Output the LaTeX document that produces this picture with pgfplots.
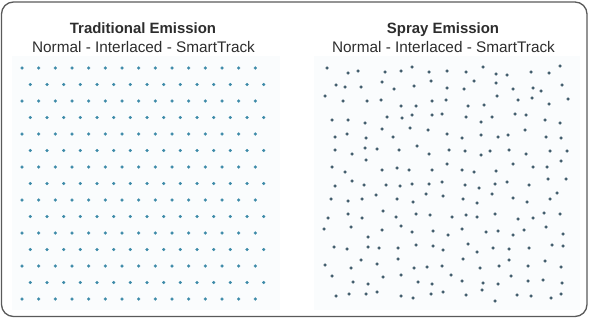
\documentclass[border=0pt]{standalone}
\usepackage{pgfplots}
\pgfplotsset{compat=1.18}
\usepackage{fontspec}
\setmainfont{Liberation Sans}
\definecolor{tradc}{RGB}{60,138,168}
\definecolor{sprayc}{RGB}{62,90,106}
\definecolor{txt}{RGB}{45,45,45}
\definecolor{framec}{RGB}{90,90,90}
\definecolor{tint}{RGB}{250,252,253}
\begin{document}
\begin{tikzpicture}
\pgfplotsset{panel/.style={scale only axis, width=294.5bp, height=318bp,
  ymin=0, ymax=318, y dir=reverse, hide axis, clip=false, anchor=south west}}
% ---------------- Left panel: traditional emission (regular interlaced grid)
\begin{axis}[panel, at={(0,0)}, xmin=0, xmax=294.5]
\path (axis cs:0,0) (axis cs:294.5,318);
\fill[tint] (axis cs:12,56) rectangle (axis cs:280,310);
\draw[framec, line width=1.3bp, rounded corners=12bp] (axis cs:1.5,2) rectangle (axis cs:587,316.5);
\node[anchor=base, font=\fontsize{15}{18}\selectfont\bfseries, text=txt] at (axis cs:143,33) {Traditional Emission};
\node[anchor=base, font=\fontsize{15.4}{18}\selectfont, text=txt] at (axis cs:143.5,52) {Normal - Interlaced - SmartTrack};
\addplot[only marks, mark=*, mark size=1.5bp, mark options={fill=tradc, draw=tradc, line width=0.2bp}] coordinates {
(22,68) (38.7,68) (55.3,68) (72,68) (88.7,68) (105.3,68) (122,68) (138.7,68) (155.3,68) (172,68) (188.7,68) (205.3,68) (222,68) (238.7,68) (255.3,68)
(30.3,84.5) (47,84.5) (63.7,84.5) (80.3,84.5) (97,84.5) (113.7,84.5) (130.3,84.5) (147,84.5) (163.7,84.5) (180.3,84.5) (197,84.5) (213.7,84.5) (230.3,84.5) (247,84.5) (263.7,84.5)
(22,101) (38.7,101) (55.3,101) (72,101) (88.7,101) (105.3,101) (122,101) (138.7,101) (155.3,101) (172,101) (188.7,101) (205.3,101) (222,101) (238.7,101) (255.3,101)
(30.3,117.5) (47,117.5) (63.7,117.5) (80.3,117.5) (97,117.5) (113.7,117.5) (130.3,117.5) (147,117.5) (163.7,117.5) (180.3,117.5) (197,117.5) (213.7,117.5) (230.3,117.5) (247,117.5) (263.7,117.5)
(22,134) (38.7,134) (55.3,134) (72,134) (88.7,134) (105.3,134) (122,134) (138.7,134) (155.3,134) (172,134) (188.7,134) (205.3,134) (222,134) (238.7,134) (255.3,134)
(30.3,150.5) (47,150.5) (63.7,150.5) (80.3,150.5) (97,150.5) (113.7,150.5) (130.3,150.5) (147,150.5) (163.7,150.5) (180.3,150.5) (197,150.5) (213.7,150.5) (230.3,150.5) (247,150.5) (263.7,150.5)
(22,167) (38.7,167) (55.3,167) (72,167) (88.7,167) (105.3,167) (122,167) (138.7,167) (155.3,167) (172,167) (188.7,167) (205.3,167) (222,167) (238.7,167) (255.3,167)
(30.3,183.5) (47,183.5) (63.7,183.5) (80.3,183.5) (97,183.5) (113.7,183.5) (130.3,183.5) (147,183.5) (163.7,183.5) (180.3,183.5) (197,183.5) (213.7,183.5) (230.3,183.5) (247,183.5) (263.7,183.5)
(22,200) (38.7,200) (55.3,200) (72,200) (88.7,200) (105.3,200) (122,200) (138.7,200) (155.3,200) (172,200) (188.7,200) (205.3,200) (222,200) (238.7,200) (255.3,200)
(30.3,216.5) (47,216.5) (63.7,216.5) (80.3,216.5) (97,216.5) (113.7,216.5) (130.3,216.5) (147,216.5) (163.7,216.5) (180.3,216.5) (197,216.5) (213.7,216.5) (230.3,216.5) (247,216.5) (263.7,216.5)
(22,233) (38.7,233) (55.3,233) (72,233) (88.7,233) (105.3,233) (122,233) (138.7,233) (155.3,233) (172,233) (188.7,233) (205.3,233) (222,233) (238.7,233) (255.3,233)
(30.3,249.5) (47,249.5) (63.7,249.5) (80.3,249.5) (97,249.5) (113.7,249.5) (130.3,249.5) (147,249.5) (163.7,249.5) (180.3,249.5) (197,249.5) (213.7,249.5) (230.3,249.5) (247,249.5) (263.7,249.5)
(22,266) (38.7,266) (55.3,266) (72,266) (88.7,266) (105.3,266) (122,266) (138.7,266) (155.3,266) (172,266) (188.7,266) (205.3,266) (222,266) (238.7,266) (255.3,266)
(30.3,282.5) (47,282.5) (63.7,282.5) (80.3,282.5) (97,282.5) (113.7,282.5) (130.3,282.5) (147,282.5) (163.7,282.5) (180.3,282.5) (197,282.5) (213.7,282.5) (230.3,282.5) (247,282.5) (263.7,282.5)
(22,299) (38.7,299) (55.3,299) (72,299) (88.7,299) (105.3,299) (122,299) (138.7,299) (155.3,299) (172,299) (188.7,299) (205.3,299) (222,299) (238.7,299) (255.3,299)
};
\end{axis}
% ---------------- Right panel: spray emission (random placement)
\begin{axis}[panel, at={(294.5bp,0)}, xmin=294.5, xmax=589]
\path (axis cs:294.5,0) (axis cs:589,318);
\fill[tint] (axis cs:314,56) rectangle (axis cs:580,310);
\node[anchor=base, font=\fontsize{15}{18}\selectfont\bfseries, text=txt] at (axis cs:443,33) {Spray Emission};
\node[anchor=base, font=\fontsize{15.4}{18}\selectfont, text=txt] at (axis cs:443.5,52) {Normal - Interlaced - SmartTrack};
\addplot[only marks, mark=*, mark size=1.5bp, mark options={fill=sprayc, draw=sprayc, line width=0.2bp}] coordinates {
(327,68) (348,73) (358,71) (385,72) (401,71) (412,67) (429,72) (447,71)
(336,85) (345,87) (361,87) (382,82) (394,89) (414,86) (431,81) (447,88)
(325,96) (343,101) (367,101) (381,100) (401,106) (416,106) (432,101) (446,100)
(332,120) (348,120) (365,123) (387,117) (402,118) (412,115) (432,115) (442,114)
(335,137) (347,134) (366,138) (382,129) (393,137) (410,128) (428,130) (447,134)
(466,72) (483,67) (496,74) (507,75) (531,72) (549,73) (560,66)
(474,81) (496,83) (464,89) (513,89) (533,88) (541,91) (562,85)
(497,96) (518,100) (532,98) (549,104) (568,99)
(468,106) (484,105) (466,117) (481,122) (492,117) (515,114) (526,115) (545,120) (560,123)
(462,138) (481,135) (498,137) (508,135) (525,130) (546,137) (561,138)
(335,150) (352,154) (365,148) (377,149) (399,150) (417,146) (429,154) (449,150)
(366,160) (332,167) (345,172) (382,170) (397,168) (409,170) (432,170) (447,164)
(352,181) (335,186) (364,185) (386,185) (400,186) (412,184) (429,184) (442,182)
(331,199) (348,201) (362,199) (376,195) (397,199) (413,202) (426,194) (443,196)
(328,218) (348,214) (362,218) (383,211) (396,217) (416,214) (430,215)
(465,151) (481,155) (490,151) (509,150) (526,154) (550,151) (567,151)
(462,170) (474,172) (496,171) (513,164) (533,167) (547,167) (561,161)
(548,179) (566,179) (465,185) (479,188) (495,184) (507,182) (529,185)
(463,199) (477,203) (492,194) (513,198) (527,202) (550,199) (557,193)
(452,217) (466,215) (477,217) (495,214) (518,219) (533,218) (544,213) (560,214)
(324,229) (351,227) (382,230) (401,226) (412,232) (433,231) (448,235)
(368,237) (334,247) (347,249) (368,247) (379,248) (398,248) (416,245) (433,246) (443,250)
(361,260) (325,265) (351,268) (377,264) (398,259) (414,268) (427,267) (442,266)
(332,276) (353,282) (368,284) (383,277) (401,275) (418,282) (432,284)
(336,296) (349,294) (366,294) (377,292) (401,296) (413,298) (431,294) (443,292)
(462,229) (486,232) (498,231) (513,235) (524,230) (546,227) (563,234)
(468,244) (477,252) (493,248) (509,249) (529,248) (552,245) (563,246)
(463,259) (480,268) (499,266) (509,260) (528,266) (545,261) (561,267)
(451,275) (462,281) (483,283) (498,284) (511,276) (528,281) (543,280) (562,283)
(466,295) (482,290) (495,301) (517,295) (531,296) (551,298) (561,294)
};
\end{axis}
\end{tikzpicture}
\end{document}
